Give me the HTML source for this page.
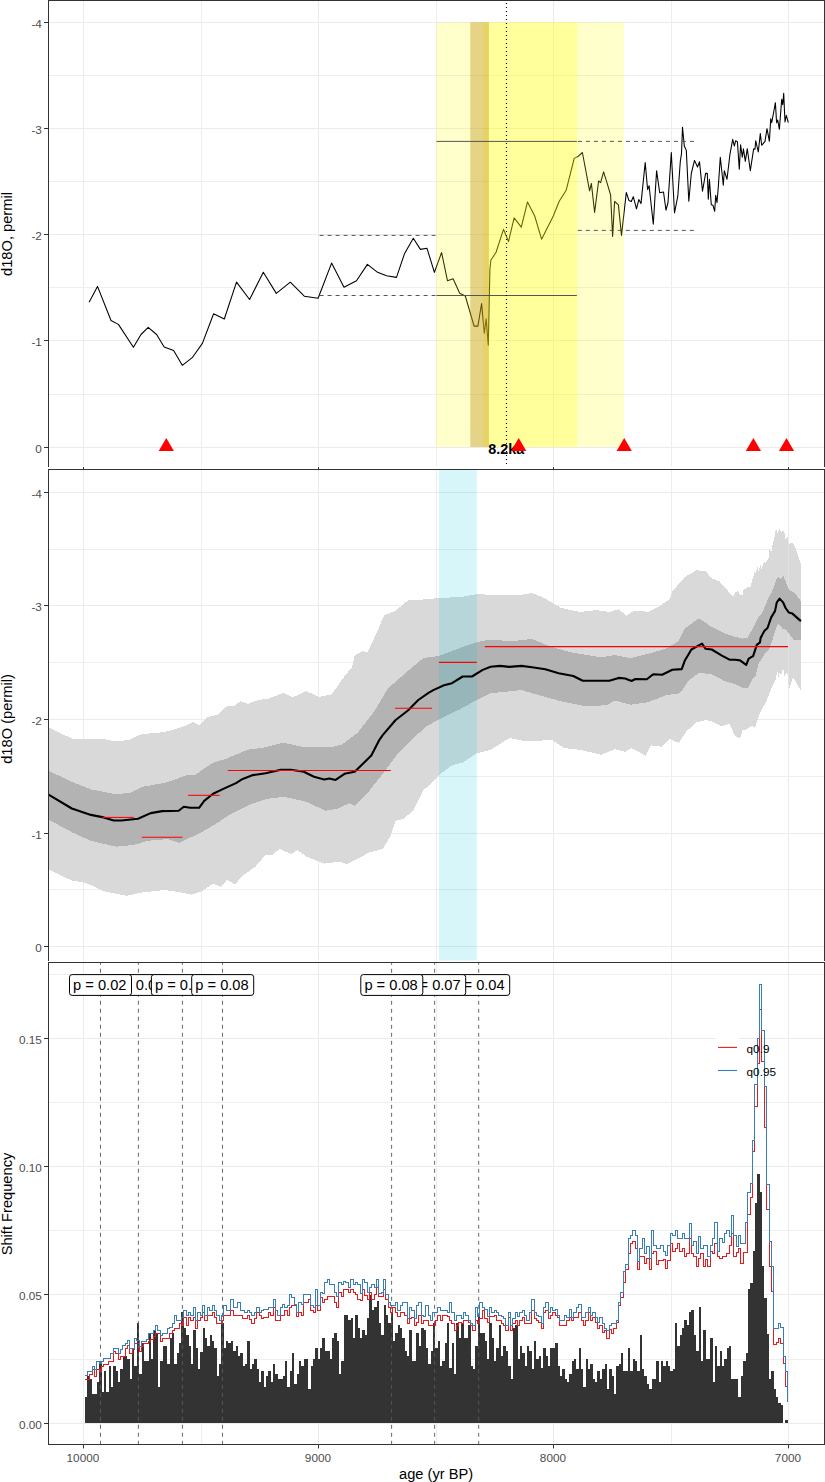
<!DOCTYPE html>
<html lang="en"><head><meta charset="utf-8"><title>d18O shift frequency</title>
<style>html,body{margin:0;padding:0;background:#fff}body{width:825px;height:1482px;overflow:hidden}svg{display:block}</style>
</head><body>
<svg width="825" height="1482" viewBox="0 0 825 1482" font-family='"Liberation Sans", Arial, Helvetica, sans-serif'>
<rect width="825" height="1482" fill="#fff"/>
<g id="p1">
<line x1="201.5" x2="201.5" y1="0.5" y2="466.6" stroke="#EEEEEE" stroke-width="1"/>
<line x1="436.5" x2="436.5" y1="0.5" y2="466.6" stroke="#EEEEEE" stroke-width="1"/>
<line x1="671.5" x2="671.5" y1="0.5" y2="466.6" stroke="#EEEEEE" stroke-width="1"/>
<line x1="48.5" x2="824.5" y1="75.5" y2="75.5" stroke="#EEEEEE" stroke-width="1"/>
<line x1="48.5" x2="824.5" y1="181.5" y2="181.5" stroke="#EEEEEE" stroke-width="1"/>
<line x1="48.5" x2="824.5" y1="287.5" y2="287.5" stroke="#EEEEEE" stroke-width="1"/>
<line x1="48.5" x2="824.5" y1="394.5" y2="394.5" stroke="#EEEEEE" stroke-width="1"/>
<line x1="83.5" x2="83.5" y1="0.5" y2="466.6" stroke="#EBEBEB" stroke-width="1"/>
<line x1="318.5" x2="318.5" y1="0.5" y2="466.6" stroke="#EBEBEB" stroke-width="1"/>
<line x1="553.5" x2="553.5" y1="0.5" y2="466.6" stroke="#EBEBEB" stroke-width="1"/>
<line x1="788.5" x2="788.5" y1="0.5" y2="466.6" stroke="#EBEBEB" stroke-width="1"/>
<line x1="48.5" x2="824.5" y1="22.5" y2="22.5" stroke="#EBEBEB" stroke-width="1"/>
<line x1="48.5" x2="824.5" y1="128.5" y2="128.5" stroke="#EBEBEB" stroke-width="1"/>
<line x1="48.5" x2="824.5" y1="234.5" y2="234.5" stroke="#EBEBEB" stroke-width="1"/>
<line x1="48.5" x2="824.5" y1="340.5" y2="340.5" stroke="#EBEBEB" stroke-width="1"/>
<line x1="48.5" x2="824.5" y1="447.5" y2="447.5" stroke="#EBEBEB" stroke-width="1"/>
<polyline points="89.1,302.2 97.5,286.4 111,320.5 118.4,324.4 133.4,347.3 141,334.5 148.2,327.4 156.6,334.5 164.2,347 173.6,350.6 182.3,365.3 192.2,357.7 202.4,343.4 213.6,313.7 224.3,319 236.5,282.1 249.6,299.5 263.3,272.3 276.3,293.4 290.3,282.2 304.3,296.2 318.1,298.2 331.6,263.1 344,287.3 356.5,280.7 367.4,264.4 377.6,272.3 386.5,275.8 396.5,277.4 404.6,253.4 413.3,238.2 420.4,249.4 427,248.3 434.4,272.4 441.6,252.5 447.5,280.8 453.1,278.7 459.7,293.3 465.3,296 474.1,326.1 477.9,326.1 481.6,303.5 484.3,333.3 486.1,318.7 488.3,345.3 489.9,269.3 490.9,260 496,252.5 503.5,229.3 508.5,241.6 514.1,217.9 521.3,227.2 527.5,201.9 534.7,216 541.6,239.2 553.3,216 559.2,201.3 566.2,190.2 574.2,158.4 578.4,156.2 582.4,152.5 589.6,190.8 591.4,183.5 594.6,212.4 598.6,181 600.6,182.6 603.6,171.8 606.8,182.2 610.6,195 612.6,236.4 614.6,201.5 618.4,204.9 621.5,235.4 626.3,192.5 628.9,200.4 631.3,201.5 633.3,196.7 636.5,208.8 638.8,199.6 641,203.6 645.2,162.5 647.6,189.5 649.1,185.8 653.3,224.2 656.6,170.7 659.7,192.7 663.5,192 666,210.2 668,202.5 671.3,152.5 674.5,212.8 677.8,196.2 680.3,161.5 681.5,153.6 682.5,127.3 684.3,146 686.3,150.4 688.8,201.3 691.3,173.5 694.5,160.4 697.5,167 699.5,161.8 702.5,191.1 705.6,173.4 707.3,173.2 708.3,199.3 709.4,179.3 711.3,204.7 713,205.3 714.7,211.3 715.7,195.3 717,202.7 718.3,186.7 720.3,157.3 723.3,185.3 724.3,170.7 727,179.3 729.9,154.7 732.7,139.3 734.3,146 735.7,140.7 737.4,141.6 739.3,169.3 740.6,144.7 742.3,157.3 743.4,148.7 745.3,161.3 747.3,148.7 750.3,170.7 753.7,148.7 755,149.3 755.7,140.7 758.3,152 760.3,133.6 761.7,145.3 765,141.3 767,128.7 769.4,141.3 770.7,118.7 771.7,122.7 773.7,112 775.4,102.7 776.6,122.7 777.7,120 779.4,129.3 781.7,99.3 782.7,104.7 783.7,93.3 785,122 786.3,115.3 788.3,122.7" fill="none" stroke="#000" stroke-width="1.07" stroke-linejoin="round"/>
<rect x="436.5" y="22.3" width="187.6" height="424.7" fill="#ffff00" fill-opacity="0.2"/>
<rect x="483.0" y="22.3" width="94.2" height="424.7" fill="#ffff00" fill-opacity="0.24"/>
<rect x="470.3" y="22.3" width="18.6" height="424.7" fill="#b8860b" fill-opacity="0.36"/>
<g stroke="#4d4d4d" stroke-width="0.95" fill="none">
<line x1="436.5" x2="576.9" y1="141.4" y2="141.4"/>
<line x1="577.9" x2="694.4" y1="141.4" y2="141.4" stroke-dasharray="4 4"/>
<line x1="436.5" x2="576.9" y1="295.5" y2="295.5"/>
<line x1="319.6" x2="436.5" y1="295.5" y2="295.5" stroke-dasharray="4 4"/>
<line x1="319.6" x2="436.5" y1="235.4" y2="235.4" stroke-dasharray="4 4"/>
<line x1="577.8" x2="694.4" y1="230.4" y2="230.4" stroke-dasharray="4 4"/>
</g>
<line x1="506.5" x2="506.5" y1="464.1" y2="0" stroke="#000" stroke-width="1.1" stroke-dasharray="1.2 2.8"/>
<text x="506.2" y="453.5" text-anchor="middle" font-size="14.67" font-weight="bold" fill="#000" textLength="36" lengthAdjust="spacingAndGlyphs">8.2ka</text>
<polygon points="166.3,437.9 158.7,451 173.9,451" fill="#ff0000"/>
<polygon points="518.7,437.9 511.1,451 526.3,451" fill="#ff0000"/>
<polygon points="624.2,437.9 616.6,451 631.8,451" fill="#ff0000"/>
<polygon points="753.4,437.9 745.8,451 761,451" fill="#ff0000"/>
<polygon points="786.5,437.9 778.9,451 794.1,451" fill="#ff0000"/>
<path d="M48.5,466.6 V0.5 H824.5 V466.6" fill="none" stroke="#333333" stroke-width="1.1" shape-rendering="crispEdges"/>
<line x1="44" x2="48.5" y1="22.5" y2="22.5" stroke="#333333" stroke-width="1"/>
<text x="41.9" y="27.7" text-anchor="end" font-size="11.73" fill="#4D4D4D">-4</text>
<line x1="44" x2="48.5" y1="128.5" y2="128.5" stroke="#333333" stroke-width="1"/>
<text x="41.9" y="133.7" text-anchor="end" font-size="11.73" fill="#4D4D4D">-3</text>
<line x1="44" x2="48.5" y1="234.5" y2="234.5" stroke="#333333" stroke-width="1"/>
<text x="41.9" y="239.7" text-anchor="end" font-size="11.73" fill="#4D4D4D">-2</text>
<line x1="44" x2="48.5" y1="340.5" y2="340.5" stroke="#333333" stroke-width="1"/>
<text x="41.9" y="345.7" text-anchor="end" font-size="11.73" fill="#4D4D4D">-1</text>
<line x1="44" x2="48.5" y1="447.5" y2="447.5" stroke="#333333" stroke-width="1"/>
<text x="41.9" y="452.7" text-anchor="end" font-size="11.73" fill="#4D4D4D">0</text>
<line x1="83.5" x2="83.5" y1="467" y2="469.5" stroke="#333333" stroke-width="1"/>
<line x1="318.5" x2="318.5" y1="467" y2="469.5" stroke="#333333" stroke-width="1"/>
<line x1="553.5" x2="553.5" y1="467" y2="469.5" stroke="#333333" stroke-width="1"/>
<line x1="788.5" x2="788.5" y1="467" y2="469.5" stroke="#333333" stroke-width="1"/>
<text transform="translate(12.4,234) rotate(-90)" text-anchor="middle" font-size="14.67" fill="#000">d18O, permil</text>
</g>
<g id="p2">
<line x1="201.5" x2="201.5" y1="469.5" y2="960.5" stroke="#EEEEEE" stroke-width="1"/>
<line x1="436.5" x2="436.5" y1="469.5" y2="960.5" stroke="#EEEEEE" stroke-width="1"/>
<line x1="671.5" x2="671.5" y1="469.5" y2="960.5" stroke="#EEEEEE" stroke-width="1"/>
<line x1="48.5" x2="824.5" y1="549.5" y2="549.5" stroke="#EEEEEE" stroke-width="1"/>
<line x1="48.5" x2="824.5" y1="662.5" y2="662.5" stroke="#EEEEEE" stroke-width="1"/>
<line x1="48.5" x2="824.5" y1="776.5" y2="776.5" stroke="#EEEEEE" stroke-width="1"/>
<line x1="48.5" x2="824.5" y1="889.5" y2="889.5" stroke="#EEEEEE" stroke-width="1"/>
<line x1="83.5" x2="83.5" y1="469.5" y2="960.5" stroke="#EBEBEB" stroke-width="1"/>
<line x1="318.5" x2="318.5" y1="469.5" y2="960.5" stroke="#EBEBEB" stroke-width="1"/>
<line x1="553.5" x2="553.5" y1="469.5" y2="960.5" stroke="#EBEBEB" stroke-width="1"/>
<line x1="788.5" x2="788.5" y1="469.5" y2="960.5" stroke="#EBEBEB" stroke-width="1"/>
<line x1="48.5" x2="824.5" y1="492.5" y2="492.5" stroke="#EBEBEB" stroke-width="1"/>
<line x1="48.5" x2="824.5" y1="605.5" y2="605.5" stroke="#EBEBEB" stroke-width="1"/>
<line x1="48.5" x2="824.5" y1="719.5" y2="719.5" stroke="#EBEBEB" stroke-width="1"/>
<line x1="48.5" x2="824.5" y1="833.5" y2="833.5" stroke="#EBEBEB" stroke-width="1"/>
<line x1="48.5" x2="824.5" y1="946.5" y2="946.5" stroke="#EBEBEB" stroke-width="1"/>
<polygon points="48.6,727.5 71.8,738.5 103.6,739 113.8,741.1 127.8,740.3 141.8,734 157.1,732.9 169.8,730.9 185.1,725.8 192.7,722 199.1,725.3 208,716.9 218.2,714.4 225.8,706.7 234.7,705.5 240.2,701.3 247.8,703.8 258,700 268.2,698.7 283.4,692.9 292.4,697.4 306.4,691.1 319.1,696.9 331.8,694.4 342,679.6 352.2,666.9 354.7,655.4 362.4,651.1 367.4,652.1 376.3,633.8 384,615.5 395.4,610.9 408.2,600.2 423.4,599.5 438.7,598.1 462.7,596.8 476.8,594.1 500,595.2 521.3,594.7 532,593.1 542.7,597.3 561.3,608 580,612 596,610.1 609.3,612 618.7,609.3 626.5,615.6 634.1,610.5 648.1,611.8 660.8,605.4 669.7,599.1 672.3,591.4 685,576.9 696.4,570.3 705.4,571.1 711.7,578.2 719.4,581.3 728.3,591.4 733.3,596.5 735,592.4 737.5,591.2 740.6,594.9 743.1,594.9 743.5,589.9 747.5,587.4 751.2,587.4 751.6,582.4 753.1,577.4 755,569.9 755.6,573.7 757.5,566.8 758.1,572.4 760.6,564.3 761.2,569.9 764.3,561.2 765,563.7 768.7,558.1 769.3,548.1 771.2,552.5 772.5,545 775,535 776.2,525 776.8,533.7 779.9,528.7 781.2,532.5 783.1,530.6 784.9,533.7 785.6,540 787.4,536.2 788.7,543.7 793.1,543.1 796.2,550 799.9,561.2 800.9,563.7 800.9,691 796.2,682.3 793.1,677.3 789.3,688.5 787.4,672.9 786.2,673.6 784.3,676 783.1,666.7 781.2,676 779.9,671.7 778.1,678.5 777.4,671.1 775.6,679.8 772.5,686 769.3,693.5 766.8,700 758.7,716 755,727.2 751.2,726 747.5,729.1 742.5,730.4 740,738.5 735,736 729.5,723.8 721.9,726.3 711.7,721.2 705.4,720 696.4,722.5 686.3,731.4 678.6,742.9 669.7,739.1 662.1,746.7 650.6,745.4 645.5,755.6 631.5,748 625.2,751.8 615,749.2 601.3,754.7 580,749.9 564,748 552,740 526.7,741.3 509.3,738.1 490.7,749.9 476.8,753.3 462.7,762.7 452,765.3 441.3,773.3 432,782.7 423.4,790.3 413.3,810.7 403.1,819.1 395.4,820.9 390.3,836.2 382.7,848.9 368.7,852.7 357.3,859.1 347.1,864.2 339.4,861.6 324.2,863.6 306.4,856.5 297.4,850.1 291.1,854 279.6,848.9 272,855.2 265.6,854.7 255.5,866.7 242.7,875.6 235.1,884.5 227.1,879.8 220.7,886.7 213.1,883.6 201.6,891.2 191.4,894.6 178.7,892 164.7,890 141.8,892.5 126.5,895.8 103.6,891.2 85.8,882.8 71.8,880.6 48.6,869.3" fill="#D9D9D9" shape-rendering="crispEdges"/>
<polygon points="48.6,770.8 71.8,781.8 90.9,789.4 113.8,793.8 129.1,793.3 141.8,786.9 167.3,782.3 186.3,775.4 195.3,774.7 213.1,762.7 225.8,758.9 236,754.6 247.8,749.6 263.1,747.8 283.4,742.7 301.3,746.6 331.8,747.1 342,744.5 357.3,733.1 375.1,710.2 387.8,688.5 408.2,670.7 423.4,658 438.7,656 460,648 476.8,642.1 490.7,639.5 510.7,641.3 532,638.9 550.7,646.7 569.3,652 601.3,657.3 615,655.1 630.3,658.1 648.1,653.8 665.9,648.7 678.6,641.1 685,628.4 699,618.2 711.7,627.1 724.4,633.4 735,636.7 742.5,638.6 747.5,638 751.9,629.9 757.5,618.6 761.8,613.6 768.7,597.4 771.8,592.4 776.2,579.9 778.7,576.8 780.6,578.7 783.4,576.2 786.2,583 789.9,591.2 793.7,591.8 800.9,601.1 800.9,640.5 793.7,639.8 789.9,634.9 786.2,629.9 782.4,628.6 778.7,623.6 776.2,627.4 772.5,639.8 769.3,648.6 765,653.6 758.7,663.6 755.6,676 751.2,681 748.1,687.9 743.7,688.5 735,684.2 724.4,681 711.7,674.2 699,672.9 688.8,680.5 679.9,693.3 665.9,695.3 648.1,702.2 630.3,704.7 615,700.4 606.7,705.3 585.3,706.1 561.3,701.3 540,695.5 521.3,690.1 490.7,693.3 476.8,700 460,709.3 438.7,719.5 426,726.7 413.3,738.2 398,753.4 382.7,773.8 368.7,791.6 354.7,805.6 349.6,803.1 336.9,808.9 325.4,810.7 306.4,801.8 283.4,796.7 265.6,799.2 250.4,804.3 228.3,815.4 218.2,822.5 202.9,831.4 192.7,836.5 178.7,842.9 167.3,839.1 146.9,840.9 134.2,844.9 116.4,846.7 90.9,840.9 71.8,832.2 48.6,819.7" fill="#B3B3B3" shape-rendering="crispEdges"/>
<path d="M788.5,543.5 V588.5 M788.5,633.5 V684" stroke="#E1E1E1" stroke-width="1" fill="none"/>
<rect x="439.0" y="469.5" width="37.9" height="491" fill="#00c8dc" fill-opacity="0.16"/>
<polyline points="48.6,794.7 71.8,808.5 90.9,814.9 103.6,817.4 113.8,820.5 121.4,820.5 138,818.7 150.7,813.1 162.2,811.1 178.7,810.8 183.8,806.7 190.2,807.8 199.1,807.8 204.2,800.9 213.1,793.8 223.3,788.9 236,783.1 242.7,778.9 252.9,775.1 265.6,773.3 280.9,769.7 291.1,769.7 303.8,771.8 314,776.8 324.2,779.6 329.3,778.4 335.6,779.9 344.5,773.8 354.7,771.8 371.3,755.5 378.9,740.7 382.7,735.1 395.4,720.3 408.2,710.2 418.3,700 428.5,692.9 433.3,690.1 444,685.3 452,683.2 462.7,676.5 472,676.5 482.7,669.9 490.7,666.7 500,665.9 509.3,666.9 521.3,665.9 532,667.2 545.3,669.3 558.7,673.3 573.3,676 582.7,680.8 609.3,680.8 618.7,677.9 625.2,678.5 631.5,681 635.4,679 646.8,679.3 653.2,674.2 662.1,674.7 672.3,669.8 681.7,669.1 685,660.2 691.4,649.5 702,643.6 705.4,648.7 711.7,649.5 721.9,655.6 729.5,659.7 735,659.8 740,660.4 746.2,664.8 748.7,658.6 753.1,656.1 756.8,644.8 760,642.3 760.6,638 764.3,631.1 767.5,628 771.2,617.4 775,611.1 776.8,602.4 779.6,598.6 783.1,602.4 785.6,608 788.7,612.4 792.4,613.6 800.9,621.1" fill="none" stroke="#000" stroke-width="2.1" stroke-linejoin="round"/>
<line x1="102.4" x2="133.7" y1="817.4" y2="817.4" stroke="#ff0000" stroke-width="1.07"/>
<line x1="141.8" x2="182.5" y1="837.3" y2="837.3" stroke="#ff0000" stroke-width="1.07"/>
<line x1="188.1" x2="219.7" y1="795.3" y2="795.3" stroke="#ff0000" stroke-width="1.07"/>
<line x1="227.8" x2="390.9" y1="770.5" y2="770.5" stroke="#ff0000" stroke-width="1.07"/>
<line x1="394.9" x2="432" y1="708.2" y2="708.2" stroke="#ff0000" stroke-width="1.07"/>
<line x1="438.9" x2="476.8" y1="662.4" y2="662.4" stroke="#ff0000" stroke-width="1.07"/>
<line x1="484.8" x2="788.1" y1="646.6" y2="646.6" stroke="#ff0000" stroke-width="1.07"/>
<path d="M48.5,960.5 V469.5 H824.5 V960.5" fill="none" stroke="#333333" stroke-width="1.1" shape-rendering="crispEdges"/>
<line x1="44" x2="48.5" y1="492.5" y2="492.5" stroke="#333333" stroke-width="1"/>
<text x="41.9" y="497.7" text-anchor="end" font-size="11.73" fill="#4D4D4D">-4</text>
<line x1="44" x2="48.5" y1="605.5" y2="605.5" stroke="#333333" stroke-width="1"/>
<text x="41.9" y="610.7" text-anchor="end" font-size="11.73" fill="#4D4D4D">-3</text>
<line x1="44" x2="48.5" y1="719.5" y2="719.5" stroke="#333333" stroke-width="1"/>
<text x="41.9" y="724.7" text-anchor="end" font-size="11.73" fill="#4D4D4D">-2</text>
<line x1="44" x2="48.5" y1="833.5" y2="833.5" stroke="#333333" stroke-width="1"/>
<text x="41.9" y="838.7" text-anchor="end" font-size="11.73" fill="#4D4D4D">-1</text>
<line x1="44" x2="48.5" y1="946.5" y2="946.5" stroke="#333333" stroke-width="1"/>
<text x="41.9" y="951.7" text-anchor="end" font-size="11.73" fill="#4D4D4D">0</text>
<text transform="translate(12.4,719) rotate(-90)" text-anchor="middle" font-size="14.67" fill="#000">d18O (permil)</text>
</g>
<g id="p3">
<line x1="201.5" x2="201.5" y1="962.5" y2="1444.5" stroke="#EEEEEE" stroke-width="1"/>
<line x1="436.5" x2="436.5" y1="962.5" y2="1444.5" stroke="#EEEEEE" stroke-width="1"/>
<line x1="671.5" x2="671.5" y1="962.5" y2="1444.5" stroke="#EEEEEE" stroke-width="1"/>
<line x1="48.5" x2="824.5" y1="1359.5" y2="1359.5" stroke="#EEEEEE" stroke-width="1"/>
<line x1="48.5" x2="824.5" y1="1230.5" y2="1230.5" stroke="#EEEEEE" stroke-width="1"/>
<line x1="48.5" x2="824.5" y1="1102.5" y2="1102.5" stroke="#EEEEEE" stroke-width="1"/>
<line x1="48.5" x2="824.5" y1="974.5" y2="974.5" stroke="#EEEEEE" stroke-width="1"/>
<line x1="83.5" x2="83.5" y1="962.5" y2="1444.5" stroke="#EBEBEB" stroke-width="1"/>
<line x1="318.5" x2="318.5" y1="962.5" y2="1444.5" stroke="#EBEBEB" stroke-width="1"/>
<line x1="553.5" x2="553.5" y1="962.5" y2="1444.5" stroke="#EBEBEB" stroke-width="1"/>
<line x1="788.5" x2="788.5" y1="962.5" y2="1444.5" stroke="#EBEBEB" stroke-width="1"/>
<line x1="48.5" x2="824.5" y1="1423.5" y2="1423.5" stroke="#EBEBEB" stroke-width="1"/>
<line x1="48.5" x2="824.5" y1="1294.5" y2="1294.5" stroke="#EBEBEB" stroke-width="1"/>
<line x1="48.5" x2="824.5" y1="1166.5" y2="1166.5" stroke="#EBEBEB" stroke-width="1"/>
<line x1="48.5" x2="824.5" y1="1038.5" y2="1038.5" stroke="#EBEBEB" stroke-width="1"/>
<path d="M85.1,1422.7 V1396.97 H87.45 V1375.76 H89.8 V1379.39 H92.15 V1393.94 H94.5 V1393.94 H96.85 V1382.18 H99.2 V1363.64 H101.55 V1392.12 H103.9 V1371.15 H106.25 V1391.76 H108.6 V1366.3 H110.95 V1386.91 H113.3 V1366.3 H115.65 V1371.15 H118 V1381.82 H120.35 V1369.09 H122.7 V1356.36 H125.06 V1356.36 H127.41 V1359.39 H129.76 V1378.79 H132.11 V1349.09 H134.46 V1366.06 H136.81 V1323.03 H139.16 V1373.94 H141.51 V1343.03 H143.86 V1361.21 H146.21 V1361.21 H148.56 V1333.33 H150.91 V1359.39 H153.26 V1330.3 H155.61 V1333.94 H157.96 V1386.91 H160.31 V1361.21 H162.66 V1346.06 H165.01 V1346.06 H167.36 V1363.88 H169.71 V1338.18 H172.06 V1333.33 H174.41 V1363.88 H176.76 V1353.33 H179.11 V1343.03 H181.46 V1312.12 H183.81 V1328.24 H186.16 V1335.15 H188.51 V1346.06 H190.86 V1363.88 H193.21 V1330.3 H195.56 V1348.48 H197.91 V1369.09 H200.26 V1351.52 H202.61 V1328.24 H204.97 V1338.18 H207.32 V1346.06 H209.67 V1335.15 H212.02 V1341.21 H214.37 V1348.48 H216.72 V1376 H219.07 V1363.88 H221.42 V1323.03 H223.77 V1348.48 H226.12 V1341.21 H228.47 V1343.03 H230.82 V1341.21 H233.17 V1350.91 H235.52 V1346.06 H237.87 V1355.76 H240.22 V1353.33 H242.57 V1366.06 H244.92 V1363.88 H247.27 V1341.21 H249.62 V1369.09 H251.97 V1363.88 H254.32 V1359.39 H256.67 V1369.09 H259.02 V1381.82 H261.37 V1371.15 H263.72 V1386.91 H266.07 V1376.36 H268.42 V1371.15 H270.77 V1381.82 H273.12 V1364 H275.47 V1373.94 H277.82 V1379.03 H280.17 V1379.03 H282.53 V1376.12 H284.88 V1361.21 H287.23 V1386.67 H289.58 V1370.91 H291.93 V1353.09 H294.28 V1383.64 H296.63 V1373.94 H298.98 V1361.21 H301.33 V1366.06 H303.68 V1359.15 H306.03 V1359.15 H308.38 V1388.73 H310.73 V1366.06 H313.08 V1359.15 H315.43 V1348.12 H317.78 V1359.15 H320.13 V1348.12 H322.48 V1338.18 H324.83 V1351.15 H327.18 V1351.15 H329.53 V1359.15 H331.88 V1338.18 H334.23 V1333.09 H336.58 V1341.21 H338.93 V1373.94 H341.28 V1361.21 H343.63 V1315.15 H345.98 V1315.15 H348.33 V1320 H350.68 V1318.18 H353.03 V1337.58 H355.38 V1315.15 H357.73 V1328.24 H360.09 V1337.58 H362.44 V1330.3 H364.79 V1335.15 H367.14 V1318.18 H369.49 V1294.55 H371.84 V1309.7 H374.19 V1307.27 H376.54 V1300.61 H378.89 V1323.03 H381.24 V1334.91 H383.59 V1305.45 H385.94 V1315.15 H388.29 V1323.03 H390.64 V1312.73 H392.99 V1340.61 H395.34 V1333.09 H397.69 V1325.45 H400.04 V1328.24 H402.39 V1338.18 H404.74 V1351.15 H407.09 V1356 H409.44 V1330.3 H411.79 V1360.85 H414.14 V1360.85 H416.49 V1333.09 H418.84 V1346.06 H421.19 V1328.24 H423.54 V1330.3 H425.89 V1348.12 H428.24 V1363.64 H430.59 V1351.15 H432.94 V1323.03 H435.29 V1348.12 H437.64 V1341.21 H440 V1366.06 H442.35 V1361.21 H444.7 V1343.03 H447.05 V1323.03 H449.4 V1368.48 H451.75 V1343.03 H454.1 V1373.94 H456.45 V1323.03 H458.8 V1338.18 H461.15 V1323.64 H463.5 V1338.18 H465.85 V1338.18 H468.2 V1325.45 H470.55 V1366.06 H472.9 V1369.09 H475.25 V1346.06 H477.6 V1314.55 H479.95 V1333.09 H482.3 V1333.09 H484.65 V1341.21 H487 V1359.15 H489.35 V1323.03 H491.7 V1338.18 H494.05 V1360.85 H496.4 V1348.12 H498.75 V1325.45 H501.1 V1356 H503.45 V1346.06 H505.8 V1351.15 H508.15 V1366.06 H510.5 V1379.03 H512.85 V1328.24 H515.2 V1325.45 H517.56 V1359.15 H519.91 V1346.06 H522.26 V1353.09 H524.61 V1366.06 H526.96 V1346.06 H529.31 V1351.15 H531.66 V1369.09 H534.01 V1341.21 H536.36 V1359.15 H538.71 V1356 H541.06 V1368.48 H543.41 V1348.12 H545.76 V1356 H548.11 V1366.06 H550.46 V1348.12 H552.81 V1348.12 H555.16 V1343.23 H557.51 V1365.89 H559.86 V1375.81 H562.21 V1368.73 H564.56 V1379.07 H566.91 V1382.18 H569.26 V1374.39 H571.61 V1360.93 H573.96 V1359.09 H576.31 V1368.73 H578.66 V1348.19 H581.01 V1368.73 H583.36 V1386.86 H585.71 V1359.09 H588.06 V1368.73 H590.41 V1364.19 H592.76 V1379.07 H595.12 V1382.18 H597.47 V1371.27 H599.82 V1379.07 H602.17 V1368.73 H604.52 V1364.19 H606.87 V1388.84 H609.22 V1368.73 H611.57 V1375.81 H613.92 V1393.94 H616.27 V1365.89 H618.62 V1364.19 H620.97 V1353.14 H623.32 V1371.27 H625.67 V1371.27 H628.02 V1348.19 H630.37 V1371.27 H632.72 V1359.09 H635.07 V1360.93 H637.42 V1371.27 H639.77 V1335.01 H642.12 V1368.73 H644.47 V1375.81 H646.82 V1384.02 H649.17 V1389.19 H651.52 V1378.66 H653.87 V1378.66 H656.22 V1360.85 H658.57 V1381.9 H660.92 V1360.85 H663.27 V1365.71 H665.62 V1360.85 H667.97 V1365.71 H670.32 V1371.05 H672.67 V1368.95 H675.03 V1323.12 H677.38 V1345.79 H679.73 V1334.94 H682.08 V1327.98 H684.43 V1320.04 H686.78 V1325.22 H689.13 V1312.27 H691.48 V1310.16 H693.83 V1334.94 H696.18 V1351.13 H698.53 V1306.92 H700.88 V1360.85 H703.23 V1330.08 H705.58 V1358.74 H707.93 V1358.74 H710.28 V1338.18 H712.63 V1381.9 H714.98 V1346.28 H717.33 V1365.71 H719.68 V1351.13 H722.03 V1365.71 H724.38 V1358.74 H726.73 V1348.38 H729.08 V1346.28 H731.43 V1378.66 H733.78 V1379.28 H736.13 V1379.28 H738.48 V1397.24 H740.83 V1376.45 H743.18 V1361.32 H745.53 V1353.19 H747.88 V1289.49 H750.23 V1282.5 H752.59 V1251.3 H754.94 V1202.53 H757.29 V1174.18 H759.64 V1192.14 H761.99 V1266.24 H764.34 V1297.62 H766.69 V1333.53 H769.04 V1379.28 H771.39 V1371.34 H773.74 V1389.3 H776.09 V1397.24 H778.44 V1402.53 H780.79 V1405.37 H783.14 V1422.7 H785.49 V1420.49 H787.84 V1422.7 Z" fill="#333333" shape-rendering="crispEdges"/>
<line x1="100.5" x2="100.5" y1="1444.8" y2="962.5" stroke="#5a5a5a" stroke-width="0.9" stroke-dasharray="4 4"/>
<line x1="138.4" x2="138.4" y1="1444.8" y2="962.5" stroke="#5a5a5a" stroke-width="0.9" stroke-dasharray="4 4"/>
<line x1="182.4" x2="182.4" y1="1444.8" y2="962.5" stroke="#5a5a5a" stroke-width="0.9" stroke-dasharray="4 4"/>
<line x1="222.5" x2="222.5" y1="1444.8" y2="962.5" stroke="#5a5a5a" stroke-width="0.9" stroke-dasharray="4 4"/>
<line x1="391.6" x2="391.6" y1="1444.8" y2="962.5" stroke="#5a5a5a" stroke-width="0.9" stroke-dasharray="4 4"/>
<line x1="434.6" x2="434.6" y1="1444.8" y2="962.5" stroke="#5a5a5a" stroke-width="0.9" stroke-dasharray="4 4"/>
<line x1="478.7" x2="478.7" y1="1444.8" y2="962.5" stroke="#5a5a5a" stroke-width="0.9" stroke-dasharray="4 4"/>
<path d="M85.1,1379.64 V1379.64 H87.45 V1379.64 H89.8 V1374.3 H92.15 V1369.94 H94.5 V1376.61 H96.85 V1369.94 H99.2 V1371.52 H101.55 V1366.67 H103.9 V1364.24 H106.25 V1364.24 H108.6 V1361.21 H110.95 V1361.21 H113.3 V1351.52 H115.65 V1353.58 H118 V1359.39 H120.35 V1356.36 H122.7 V1356.36 H125.06 V1348.48 H127.41 V1345.45 H129.76 V1353.33 H132.11 V1349.7 H134.46 V1343.03 H136.81 V1343.03 H139.16 V1351.52 H141.51 V1346.42 H143.86 V1343.64 H146.21 V1343.64 H148.56 V1341.82 H150.91 V1339.15 H153.26 V1336 H155.61 V1333.33 H157.96 V1333.33 H160.31 V1341.58 H162.66 V1338.79 H165.01 V1338.79 H167.36 V1338.79 H169.71 V1333.33 H172.06 V1330.3 H174.41 V1328.48 H176.76 V1328.48 H179.11 V1323.64 H181.46 V1325.45 H183.81 V1317.58 H186.16 V1325.45 H188.51 V1317.58 H190.86 V1320 H193.21 V1317.58 H195.56 V1328.48 H197.91 V1320.61 H200.26 V1317.58 H202.61 V1312.48 H204.97 V1320 H207.32 V1315.15 H209.67 V1315.15 H212.02 V1312.48 H214.37 V1317.58 H216.72 V1323.03 H219.07 V1323.03 H221.42 V1320.61 H223.77 V1315.15 H226.12 V1315.15 H228.47 V1315.15 H230.82 V1310.3 H233.17 V1315.15 H235.52 V1315.15 H237.87 V1315.15 H240.22 V1315.15 H242.57 V1318.18 H244.92 V1318.18 H247.27 V1315.76 H249.62 V1319.39 H251.97 V1323.03 H254.32 V1318.18 H256.67 V1312.48 H259.02 V1315.15 H261.37 V1318.18 H263.72 V1317.58 H266.07 V1317.58 H268.42 V1312.48 H270.77 V1315.15 H273.12 V1307.27 H275.47 V1320 H277.82 V1320 H280.17 V1315.15 H282.53 V1315.15 H284.88 V1310.3 H287.23 V1315.15 H289.58 V1307.27 H291.93 V1305.45 H294.28 V1305.45 H296.63 V1316.97 H298.98 V1312.73 H301.33 V1315.15 H303.68 V1302.42 H306.03 V1302.42 H308.38 V1299.39 H310.73 V1310.3 H313.08 V1312.12 H315.43 V1305.45 H317.78 V1310.3 H320.13 V1297.58 H322.48 V1302.42 H324.83 V1299.39 H327.18 V1296.97 H329.53 V1296.97 H331.88 V1296.97 H334.23 V1302.42 H336.58 V1307.27 H338.93 V1292.12 H341.28 V1296.97 H343.63 V1289.09 H345.98 V1289.09 H348.33 V1292.12 H350.68 V1289.09 H353.03 V1292.12 H355.38 V1294.55 H357.73 V1299.39 H360.09 V1300 H362.44 V1289.09 H364.79 V1295.76 H367.14 V1299.39 H369.49 V1292.12 H371.84 V1299.39 H374.19 V1294.55 H376.54 V1287.27 H378.89 V1296.36 H381.24 V1296.36 H383.59 V1289.09 H385.94 V1299.39 H388.29 V1307.27 H390.64 V1312.12 H392.99 V1307.27 H395.34 V1312.12 H397.69 V1316.97 H400.04 V1312.12 H402.39 V1312.12 H404.74 V1315.15 H407.09 V1323.03 H409.44 V1318.79 H411.79 V1317.58 H414.14 V1325.45 H416.49 V1322.42 H418.84 V1315.15 H421.19 V1323.03 H423.54 V1320 H425.89 V1320 H428.24 V1325.45 H430.59 V1325.45 H432.94 V1325.45 H435.29 V1320 H437.64 V1315.15 H440 V1320 H442.35 V1315.15 H444.7 V1315.15 H447.05 V1316.97 H449.4 V1320 H451.75 V1323.03 H454.1 V1330.3 H456.45 V1325.45 H458.8 V1322.42 H461.15 V1323.03 H463.5 V1320 H465.85 V1320 H468.2 V1322.42 H470.55 V1325.45 H472.9 V1330.3 H475.25 V1320 H477.6 V1323.03 H479.95 V1318.18 H482.3 V1310.3 H484.65 V1318.18 H487 V1322.42 H489.35 V1316.97 H491.7 V1316.97 H494.05 V1315.15 H496.4 V1320 H498.75 V1320 H501.1 V1323.03 H503.45 V1325.45 H505.8 V1330.3 H508.15 V1317.58 H510.5 V1330.3 H512.85 V1323.03 H515.2 V1320 H517.56 V1325.45 H519.91 V1320 H522.26 V1317.58 H524.61 V1323.03 H526.96 V1323.03 H529.31 V1323.03 H531.66 V1310.3 H534.01 V1318.18 H536.36 V1320 H538.71 V1322.42 H541.06 V1328.48 H543.41 V1312.12 H545.76 V1310.3 H548.11 V1318.18 H550.46 V1315.15 H552.81 V1312.12 H555.16 V1315.15 H557.51 V1317.73 H559.86 V1325.52 H562.21 V1325.52 H564.56 V1325.52 H566.91 V1320.57 H569.26 V1317.73 H571.61 V1320.57 H573.96 V1317.73 H576.31 V1317.73 H578.66 V1312.07 H581.01 V1320.57 H583.36 V1325.52 H585.71 V1320.57 H588.06 V1312.78 H590.41 V1320.57 H592.76 V1317.73 H595.12 V1322.69 H597.47 V1328.36 H599.82 V1325.52 H602.17 V1332.61 H604.52 V1330.48 H606.87 V1338.27 H609.22 V1329.77 H611.57 V1333.31 H613.92 V1328.36 H616.27 V1322.69 H618.62 V1305.69 H620.97 V1297.2 H623.32 V1282.32 H625.67 V1269.58 H628.02 V1253.29 H630.37 V1243.37 H632.72 V1241.25 H635.07 V1248.33 H637.42 V1269.58 H639.77 V1256.12 H642.12 V1256.12 H644.47 V1263.2 H646.82 V1258.24 H649.17 V1269.58 H651.52 V1253.16 H653.87 V1251.21 H656.22 V1264.17 H658.57 V1260.93 H660.92 V1260.93 H663.27 V1259.64 H665.62 V1268.54 H667.97 V1260.93 H670.32 V1243.44 H672.67 V1251.21 H675.03 V1248.3 H677.38 V1243.44 H679.73 V1251.21 H682.08 V1248.3 H684.43 V1256.4 H686.78 V1253.16 H689.13 V1238.26 H691.48 V1253.16 H693.83 V1256.4 H696.18 V1266.11 H698.53 V1258.02 H700.88 V1253.16 H703.23 V1266.11 H705.58 V1259.64 H707.93 V1266.11 H710.28 V1251.21 H712.63 V1253.16 H714.98 V1243.44 H717.33 V1256.4 H719.68 V1258.02 H722.03 V1256.4 H724.38 V1256.4 H726.73 V1253.16 H729.08 V1245.87 H731.43 V1233.4 H733.78 V1256.4 H736.13 V1252.63 H738.48 V1248.47 H740.83 V1263.02 H743.18 V1252.63 H745.53 V1252.63 H747.88 V1214.82 H750.23 V1197.43 H752.59 V1151.3 H754.94 V1106.6 H757.29 V1063 H759.64 V1009.1 H761.99 V1061.4 H764.34 V1127.6 H766.69 V1209.53 H769.04 V1266.81 H771.39 V1291.38 H773.74 V1344.31 H776.09 V1342.42 H778.44 V1338.64 H780.79 V1343.36 H783.14 V1363.21 H785.49 V1386.47 H787.84 V1401.5" fill="none" stroke="#E41A1C" stroke-width="1" stroke-linejoin="miter" shape-rendering="crispEdges"/>
<path d="M85.1,1375.15 V1375.15 H87.45 V1371.52 H89.8 V1371.52 H92.15 V1366.3 H94.5 V1369.7 H96.85 V1361.45 H99.2 V1363.64 H101.55 V1361.45 H103.9 V1358.79 H106.25 V1358.79 H108.6 V1358.79 H110.95 V1353.33 H113.3 V1348.85 H115.65 V1348.85 H118 V1353.33 H120.35 V1349.09 H122.7 V1345.7 H125.06 V1343.39 H127.41 V1340.36 H129.76 V1348.85 H132.11 V1348.85 H134.46 V1338.42 H136.81 V1340.36 H139.16 V1346.42 H141.51 V1341.21 H143.86 V1341.21 H146.21 V1339.15 H148.56 V1333.33 H150.91 V1333.33 H153.26 V1330.3 H155.61 V1325.45 H157.96 V1330.3 H160.31 V1335.52 H162.66 V1333.33 H165.01 V1333.33 H167.36 V1328.48 H169.71 V1327.27 H172.06 V1323.03 H174.41 V1315.39 H176.76 V1320 H179.11 V1320 H181.46 V1317.58 H183.81 V1310.3 H186.16 V1315.15 H188.51 V1312.12 H190.86 V1315.15 H193.21 V1307.27 H195.56 V1320 H197.91 V1312.48 H200.26 V1315.15 H202.61 V1305.45 H204.97 V1315.15 H207.32 V1307.27 H209.67 V1310.3 H212.02 V1305.45 H214.37 V1310.3 H216.72 V1315.15 H219.07 V1320.61 H221.42 V1315.76 H223.77 V1305.45 H226.12 V1310.3 H228.47 V1310.3 H230.82 V1299.39 H233.17 V1307.27 H235.52 V1307.27 H237.87 V1302.42 H240.22 V1310.3 H242.57 V1310.3 H244.92 V1312.12 H247.27 V1310.3 H249.62 V1312.48 H251.97 V1315.15 H254.32 V1312.48 H256.67 V1307.27 H259.02 V1312.12 H261.37 V1310.3 H263.72 V1309.09 H266.07 V1309.09 H268.42 V1307.27 H270.77 V1307.27 H273.12 V1299.39 H275.47 V1310.3 H277.82 V1315.15 H280.17 V1307.27 H282.53 V1304.24 H284.88 V1307.27 H287.23 V1305.45 H289.58 V1294.55 H291.93 V1297.58 H294.28 V1304.24 H296.63 V1312.12 H298.98 V1302.42 H301.33 V1304.24 H303.68 V1294.55 H306.03 V1294.55 H308.38 V1294.55 H310.73 V1305.45 H313.08 V1307.27 H315.43 V1289.09 H317.78 V1305.45 H320.13 V1292.12 H322.48 V1293.94 H324.83 V1282.42 H327.18 V1279.39 H329.53 V1284.24 H331.88 V1284.24 H334.23 V1292.12 H336.58 V1296.97 H338.93 V1282.42 H341.28 V1284.24 H343.63 V1281.82 H345.98 V1282.42 H348.33 V1287.27 H350.68 V1279.39 H353.03 V1284.24 H355.38 V1282.42 H357.73 V1284.24 H360.09 V1293.94 H362.44 V1279.39 H364.79 V1282.42 H367.14 V1292.12 H369.49 V1287.27 H371.84 V1284.24 H374.19 V1287.27 H376.54 V1279.39 H378.89 V1293.94 H381.24 V1292.12 H383.59 V1279.39 H385.94 V1294.55 H388.29 V1302.42 H390.64 V1305.45 H392.99 V1305.45 H395.34 V1302.42 H397.69 V1310.3 H400.04 V1305.45 H402.39 V1302.42 H404.74 V1302.42 H407.09 V1318.18 H409.44 V1307.27 H411.79 V1310.3 H414.14 V1318.18 H416.49 V1305.45 H418.84 V1302.42 H421.19 V1315.15 H423.54 V1316.97 H425.89 V1305.45 H428.24 V1315.15 H430.59 V1320 H432.94 V1312.12 H435.29 V1312.12 H437.64 V1307.27 H440 V1310.3 H442.35 V1310.3 H444.7 V1310.3 H447.05 V1312.12 H449.4 V1302.42 H451.75 V1312.12 H454.1 V1320 H456.45 V1315.15 H458.8 V1315.15 H461.15 V1318.18 H463.5 V1312.12 H465.85 V1315.15 H468.2 V1320.61 H470.55 V1323.03 H472.9 V1325.45 H475.25 V1307.27 H477.6 V1316.97 H479.95 V1302.42 H482.3 V1307.27 H484.65 V1309.09 H487 V1316.97 H489.35 V1307.27 H491.7 V1312.12 H494.05 V1310.3 H496.4 V1312.12 H498.75 V1315.15 H501.1 V1316.97 H503.45 V1318.18 H505.8 V1325.45 H508.15 V1312.12 H510.5 V1325.45 H512.85 V1318.18 H515.2 V1312.12 H517.56 V1316.97 H519.91 V1312.12 H522.26 V1310.3 H524.61 V1315.15 H526.96 V1320 H529.31 V1312.12 H531.66 V1299.39 H534.01 V1312.12 H536.36 V1315.15 H538.71 V1316.97 H541.06 V1323.03 H543.41 V1307.27 H545.76 V1302.42 H548.11 V1312.12 H550.46 V1307.27 H552.81 V1310.3 H555.16 V1309.09 H557.51 V1315.61 H559.86 V1320.57 H562.21 V1320.57 H564.56 V1315.61 H566.91 V1317.73 H569.26 V1309.94 H571.61 V1317.73 H573.96 V1312.78 H576.31 V1307.11 H578.66 V1304.99 H581.01 V1317.73 H583.36 V1317.73 H585.71 V1312.78 H588.06 V1307.11 H590.41 V1315.61 H592.76 V1312.78 H595.12 V1317.73 H597.47 V1322.69 H599.82 V1317.73 H602.17 V1323.4 H604.52 V1328.36 H606.87 V1330.48 H609.22 V1325.52 H611.57 V1323.4 H613.92 V1323.4 H616.27 V1320.57 H618.62 V1302.15 H620.97 V1292.24 H623.32 V1271.7 H625.67 V1264.62 H628.02 V1238.41 H630.37 V1235.58 H632.72 V1230.2 H635.07 V1235.58 H637.42 V1261.78 H639.77 V1248.33 H642.12 V1238.41 H644.47 V1253.29 H646.82 V1246.2 H649.17 V1258.24 H651.52 V1230.49 H653.87 V1245.87 H656.22 V1248.3 H658.57 V1248.3 H660.92 V1245.87 H663.27 V1251.21 H665.62 V1255.59 H667.97 V1245.87 H670.32 V1233.4 H672.67 V1235.34 H675.03 V1230.49 H677.38 V1238.26 H679.73 V1238.26 H682.08 V1233.4 H684.43 V1238.26 H686.78 V1238.26 H689.13 V1223.2 H691.48 V1245.87 H693.83 V1241.01 H696.18 V1253.16 H698.53 V1236.15 H700.88 V1248.3 H703.23 V1245.87 H705.58 V1245.87 H707.93 V1256.4 H710.28 V1245.87 H712.63 V1238.26 H714.98 V1222.39 H717.33 V1251.21 H719.68 V1238.26 H722.03 V1242.63 H724.38 V1233.4 H726.73 V1230.49 H729.08 V1236.96 H731.43 V1215.1 H733.78 V1235.34 H736.13 V1246.01 H738.48 V1235.61 H740.83 V1243.18 H743.18 V1243.18 H745.53 V1222.38 H747.88 V1192.51 H750.23 V1183.63 H752.59 V1140.4 H754.94 V1084.4 H757.29 V1038.4 H759.64 V984.5 H761.99 V1030.5 H764.34 V1086.3 H766.69 V1184.57 H769.04 V1241.66 H771.39 V1266.81 H773.74 V1328.24 H776.09 V1328.24 H778.44 V1323.52 H780.79 V1327.3 H783.14 V1356.6 H785.49 V1371.34 H787.84 V1401.5" fill="none" stroke="#377EB8" stroke-width="1" stroke-linejoin="miter" shape-rendering="crispEdges"/>
<rect x="107.4" y="974.6" width="62" height="20.8" rx="2.6" fill="#fff" stroke="#000" stroke-width="1.0"/>
<text x="137.7" y="990.4" text-anchor="middle" font-size="14.67" fill="#000">p = 0.07</text>
<rect x="69.5" y="974.6" width="62" height="20.8" rx="2.6" fill="#fff" stroke="#000" stroke-width="1.0"/>
<text x="99.8" y="990.4" text-anchor="middle" font-size="14.67" fill="#000">p = 0.02</text>
<rect x="151.4" y="974.6" width="62" height="20.8" rx="2.6" fill="#fff" stroke="#000" stroke-width="1.0"/>
<text x="181.7" y="990.4" text-anchor="middle" font-size="14.67" fill="#000">p = 0.06</text>
<rect x="191.7" y="974.6" width="62" height="20.8" rx="2.6" fill="#fff" stroke="#000" stroke-width="1.0"/>
<text x="222" y="990.4" text-anchor="middle" font-size="14.67" fill="#000">p = 0.08</text>
<rect x="447.7" y="974.6" width="62" height="20.8" rx="2.6" fill="#fff" stroke="#000" stroke-width="1.0"/>
<text x="478" y="990.4" text-anchor="middle" font-size="14.67" fill="#000">p = 0.04</text>
<rect x="403.7" y="974.6" width="62" height="20.8" rx="2.6" fill="#fff" stroke="#000" stroke-width="1.0"/>
<text x="434" y="990.4" text-anchor="middle" font-size="14.67" fill="#000">p = 0.07</text>
<rect x="360.8" y="974.6" width="62" height="20.8" rx="2.6" fill="#fff" stroke="#000" stroke-width="1.0"/>
<text x="391.1" y="990.4" text-anchor="middle" font-size="14.67" fill="#000">p = 0.08</text>
<rect x="715.8" y="1035.9" width="23.2" height="23.1" fill="#fff"/>
<rect x="715.8" y="1059" width="23.2" height="23.1" fill="#fff"/>
<line x1="718" x2="737" y1="1047.4" y2="1047.4" stroke="#E41A1C" stroke-width="1.07"/>
<line x1="718" x2="737" y1="1070.5" y2="1070.5" stroke="#377EB8" stroke-width="1.07"/>
<text x="746.6" y="1052.6" font-size="11.73" fill="#000">q0.9</text>
<text x="746.6" y="1075.7" font-size="11.73" fill="#000">q0.95</text>
<rect x="48.5" y="962.5" width="776" height="482" fill="none" stroke="#333333" stroke-width="1.1" shape-rendering="crispEdges"/>
<line x1="44" x2="48.5" y1="1423.5" y2="1423.5" stroke="#333333" stroke-width="1"/>
<text x="41.9" y="1428.7" text-anchor="end" font-size="11.73" fill="#4D4D4D">0.00</text>
<line x1="44" x2="48.5" y1="1294.5" y2="1294.5" stroke="#333333" stroke-width="1"/>
<text x="41.9" y="1299.7" text-anchor="end" font-size="11.73" fill="#4D4D4D">0.05</text>
<line x1="44" x2="48.5" y1="1166.5" y2="1166.5" stroke="#333333" stroke-width="1"/>
<text x="41.9" y="1171.7" text-anchor="end" font-size="11.73" fill="#4D4D4D">0.10</text>
<line x1="44" x2="48.5" y1="1038.5" y2="1038.5" stroke="#333333" stroke-width="1"/>
<text x="41.9" y="1043.7" text-anchor="end" font-size="11.73" fill="#4D4D4D">0.15</text>
<line x1="83.5" x2="83.5" y1="1444.5" y2="1448.4" stroke="#333333" stroke-width="1"/>
<text x="82.9" y="1461.7" text-anchor="middle" font-size="11.73" fill="#4D4D4D">10000</text>
<line x1="318.5" x2="318.5" y1="1444.5" y2="1448.4" stroke="#333333" stroke-width="1"/>
<text x="317.9" y="1461.7" text-anchor="middle" font-size="11.73" fill="#4D4D4D">9000</text>
<line x1="553.5" x2="553.5" y1="1444.5" y2="1448.4" stroke="#333333" stroke-width="1"/>
<text x="552.9" y="1461.7" text-anchor="middle" font-size="11.73" fill="#4D4D4D">8000</text>
<line x1="788.5" x2="788.5" y1="1444.5" y2="1448.4" stroke="#333333" stroke-width="1"/>
<text x="787.9" y="1461.7" text-anchor="middle" font-size="11.73" fill="#4D4D4D">7000</text>
<text transform="translate(12.4,1204) rotate(-90)" text-anchor="middle" font-size="14.67" fill="#000">Shift Frequency</text>
<text x="436.1" y="1478.5" text-anchor="middle" font-size="14.67" fill="#000">age (yr BP)</text>
</g>
</svg>
</body></html>
